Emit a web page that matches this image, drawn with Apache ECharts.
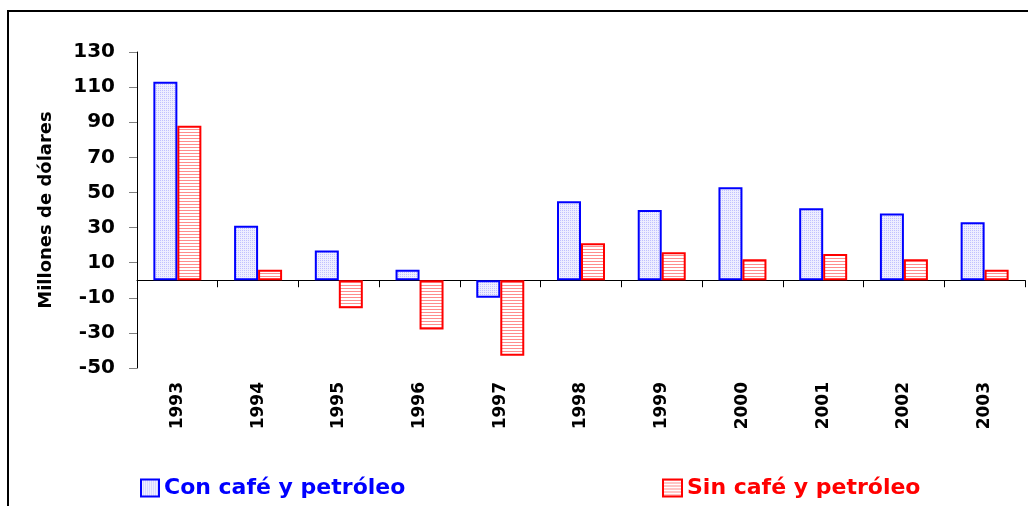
<!DOCTYPE html>
<html>
<head>
<meta charset="utf-8">
<script src="https://cdn.jsdelivr.net/npm/echarts@6/dist/echarts.min.js"></script>
<style>
    html, body { margin: 0; padding: 0; background: #fff; }
    #chart { width: 1028px; height: 506px; }
</style>
</head>
<body>
<div id="chart"></div>
<script>
    // datos
    var years = ['1993', '1994', '1995', '1996', '1997', '1998', '1999', '2000', '2001', '2002', '2003'];
    var conCafe = [113, 31, 17, 6, -10, 45, 40, 53, 41, 38, 33];
    var sinCafe = [88, 6, -16, -28, -43, 21, 16, 12, 15, 12, 6];
    var nombreCon = 'Con café y petróleo';
    var nombreSin = 'Sin café y petróleo';
    var yMin = -50, yMax = 130, yStep = 20;

    // tramas de relleno
    function dots() {
        var c = document.createElement('canvas');
        c.width = 2; c.height = 2;
        var g = c.getContext('2d');
        g.fillStyle = '#eeeeff';
        g.fillRect(0, 0, 2, 2);
        g.fillStyle = '#c0c0ff';
        g.fillRect(0, 0, 1, 1);
        return c;
    }
    function stripes() {
        var c = document.createElement('canvas');
        c.width = 4; c.height = 3;
        var g = c.getContext('2d');
        g.fillStyle = '#ffffff';
        g.fillRect(0, 0, 4, 3);
        g.fillStyle = '#ff8c8c';
        g.fillRect(0, 0, 4, 1);
        return c;
    }
    var blueFill = { image: dots(), repeat: 'repeat' };
    var redFill = { image: stripes(), repeat: 'repeat' };

    var font = 'DejaVu Sans';
    var myChart = echarts.init(document.getElementById('chart'));
    myChart.setOption({
        animation: false,
        graphic: [{
            type: 'rect',
            shape: { x: 8, y: 11, width: 1040, height: 520 },
            style: { fill: 'none', stroke: '#000', lineWidth: 2 },
            silent: true
        }],
        grid: { left: 137, right: 3, top: 52, bottom: 138, outerBoundsMode: 'none' },
        legend: [{
            data: [nombreCon],
            icon: 'rect',
            left: 135, top: 472,
            itemWidth: 18, itemHeight: 17, itemGap: 8,
            textStyle: { color: '#0000ff', fontFamily: font, fontWeight: 'bold', fontSize: 22 }
        }, {
            data: [nombreSin],
            icon: 'rect',
            left: 657, top: 472,
            itemWidth: 19, itemHeight: 17, itemGap: 8,
            textStyle: { color: '#ff0000', fontFamily: font, fontWeight: 'bold', fontSize: 22 }
        }],
        xAxis: [{
            type: 'category',
            data: years,
            axisLine: { onZero: true, lineStyle: { color: '#000', width: 1 } },
            axisTick: { show: true, interval: 0, length: 7, lineStyle: { color: '#000' } },
            axisLabel: { show: false }
        }, {
            type: 'category',
            data: years,
            position: 'bottom',
            axisLine: { show: false, onZero: false },
            axisTick: { show: false },
            axisLabel: {
                rotate: 90, margin: 14, interval: 0,
                color: '#000', fontFamily: font, fontWeight: 'bold', fontSize: 17
            }
        }],
        yAxis: {
            type: 'value',
            min: yMin, max: yMax, interval: yStep,
            name: 'Millones de dólares',
            nameLocation: 'middle',
            nameGap: 82,
            nameTextStyle: { color: '#000', fontFamily: font, fontWeight: 'bold', fontSize: 18 },
            splitLine: { show: false },
            axisLine: { show: true, lineStyle: { color: '#000' } },
            axisTick: { show: true, length: 8, lineStyle: { color: '#808080' } },
            axisLabel: { margin: 22, color: '#000', fontFamily: font, fontWeight: 'bold', fontSize: 20 }
        },
        series: [{
            name: nombreCon,
            type: 'bar',
            data: conCafe,
            barWidth: 24,
            barGap: '0%',
            itemStyle: { color: blueFill, borderColor: '#0000ff', borderWidth: 2 }
        }, {
            name: nombreSin,
            type: 'bar',
            data: sinCafe,
            barWidth: 24,
            itemStyle: { color: redFill, borderColor: '#ff0000', borderWidth: 2 }
        }]
    });
</script>
</body>
</html>
